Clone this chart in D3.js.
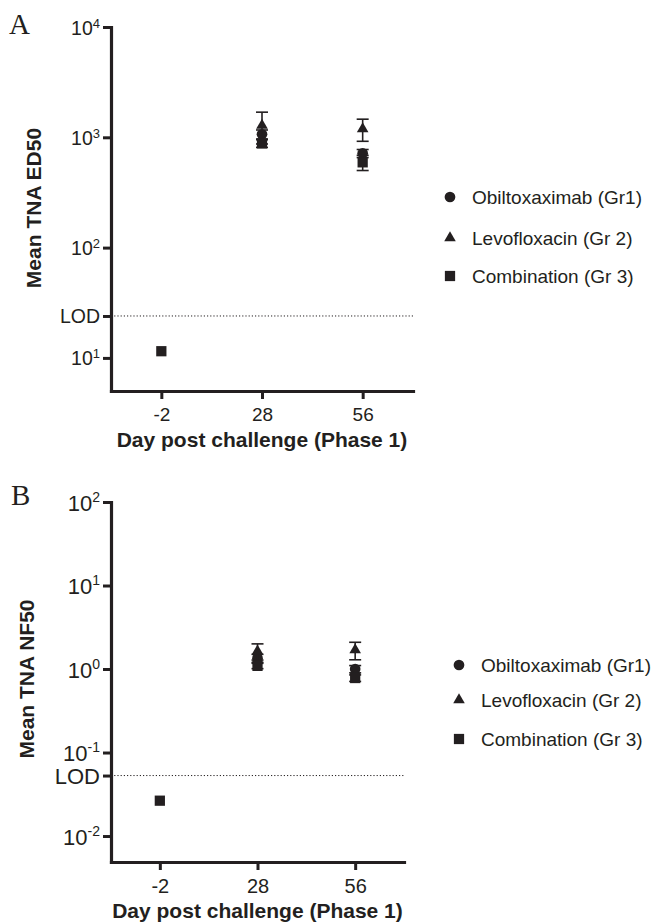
<!DOCTYPE html>
<html><head><meta charset="utf-8">
<script src="https://cdn.jsdelivr.net/npm/d3@7"></script>
<style>body{margin:0;background:#fff}svg{display:block}</style>
</head><body><svg id="c" width="651" height="924"></svg>
<script>
// ---------- data ----------
const days = ["-2", "28", "56"];
const groups = ["Obiltoxaximab (Gr1)", "Levofloxacin (Gr 2)", "Combination (Gr 3)"];
const shapes = ["circle", "triangle", "square"];

// Panel A: Mean TNA ED50 (null = not shown at that day)
const edObil = [null, 1065, 715];
const edLevo = [null, 1280, 1190];
const edComb = [11.5, 880, 593];
const edObilSem = [0, 100, 60];
const edLevoSem = [0, 410, 270];
const edCombSem = [0, 70, 93];
const edLOD = 24;
const edTicks = [10, 24, 100, 1000, 10000];
const edTickLabels = [["10", "1"], ["LOD", ""], ["10", "2"], ["10", "3"], ["10", "4"]];

// Panel B: Mean TNA NF50
const nfObil = [null, 1.35, 1.0];
const nfLevo = [null, 1.64, 1.69];
const nfComb = [0.0265, 1.09, 0.78];
const nfObilSem = [0, 0.15, 0.1];
const nfLevoSem = [0, 0.36, 0.4];
const nfCombSem = [0, 0.08, 0.07];
const nfLOD = 0.053;
const nfTicks = [0.01, 0.053, 0.1, 1, 10, 100];
const nfTickLabels = [["10", "-2"], ["LOD", ""], ["10", "-1"], ["10", "0"], ["10", "1"], ["10", "2"]];

// ---------- drawing ----------
const svg = d3.select("#c");
const INK = "#231f20";
const FONT = "'Liberation Sans', Arial, Helvetica, sans-serif";

function symbolPath(shape, size) {
  const t = shape === "circle" ? d3.symbolCircle : shape === "triangle" ? d3.symbolTriangle : d3.symbolSquare;
  return d3.symbol().type(t).size(size)();
}
const symSize = {circle: 90, triangle: 58, square: 105};

function panel(cfg) {
  const g = svg.append("g");
  const x = d3.scalePoint().domain(days).range([cfg.x0, cfg.x1]).padding(0.5);
  const y = d3.scaleLog().domain(cfg.ydom).range([cfg.yb, cfg.yt]);

  // LOD line
  g.append("line").attr("x1", cfg.x0).attr("x2", cfg.x1)
    .attr("y1", y(cfg.lod)).attr("y2", y(cfg.lod))
    .attr("stroke", INK).attr("stroke-width", 1).attr("stroke-dasharray", "1.2,2");

  // y axis
  const ya = g.append("g").attr("transform", `translate(${cfg.x0},0)`)
    .call(d3.axisLeft(y).tickValues(cfg.ticks).tickSize(8).tickSizeOuter(0).tickPadding(3));
  ya.select(".domain").attr("stroke", INK).attr("stroke-width", 3.2).attr("stroke-linecap", "square");
  ya.selectAll(".tick line").attr("stroke", INK).attr("stroke-width", 3);
  ya.selectAll(".tick text").each(function(d, i) {
    const lab = cfg.tickLabels[i];
    const t = d3.select(this).text(null)
      .attr("font-family", FONT).attr("font-size", cfg.ytickFs).attr("fill", INK)
      .attr("dy", null).attr("y", cfg.ytickDy).attr("x", -11);
    t.append("tspan").text(lab[0]);
    if (lab[1]) t.append("tspan").text(lab[1]).attr("font-size", cfg.supFs).attr("dy", cfg.supDy);
  });

  // x axis
  const xa = g.append("g").attr("transform", `translate(0,${cfg.yb})`)
    .call(d3.axisBottom(x).tickSize(8).tickSizeOuter(0).tickPadding(6));
  xa.select(".domain").attr("stroke", INK).attr("stroke-width", 3.2).attr("stroke-linecap", "square");
  xa.selectAll(".tick line").attr("stroke", INK).attr("stroke-width", 3);
  xa.selectAll(".tick text").attr("font-family", FONT).attr("font-size", cfg.xtickFs).attr("fill", INK)
    .attr("dy", null).attr("y", cfg.xtickY);

  // titles
  g.append("text").attr("x", (cfg.x0 + cfg.x1) / 2).attr("y", cfg.xtitleY)
    .attr("text-anchor", "middle").attr("font-family", FONT).attr("font-weight", "bold")
    .attr("font-size", cfg.titleFs).attr("fill", INK).text("Day post challenge (Phase 1)");
  g.append("text").attr("transform", `translate(${cfg.ytitleX},${cfg.ytitleY}) rotate(-90)`)
    .attr("text-anchor", "middle").attr("font-family", FONT).attr("font-weight", "bold")
    .attr("font-size", cfg.titleFs).attr("fill", INK).text(cfg.ytitle);
  g.append("text").attr("x", cfg.letterX).attr("y", cfg.letterY)
    .attr("font-family", "'Liberation Serif', 'Times New Roman', serif").attr("font-size", 29)
    .attr("fill", INK).text(cfg.letter);

  // series
  cfg.series.forEach((s, si) => {
    const sg = g.append("g");
    const pts = days.map((d, i) => ({d, v: s.vals[i], e: s.sem[i]})).filter(p => p.v != null);
    pts.forEach(p => {
      if (!p.e) return;
      const cx = x(p.d);
      const yl = y(Math.max(p.v - p.e, cfg.ydom[0])), yh = y(p.v + p.e);
      sg.append("line").attr("x1", cx).attr("x2", cx).attr("y1", yl).attr("y2", yh)
        .attr("stroke", INK).attr("stroke-width", 1.6);
      [yl, yh].forEach(yy => sg.append("line").attr("x1", cx - 6).attr("x2", cx + 6)
        .attr("y1", yy).attr("y2", yy).attr("stroke", INK).attr("stroke-width", 1.6));
    });
    sg.selectAll("path.m").data(pts).join("path").attr("class", "m")
      .attr("d", symbolPath(shapes[si], symSize[shapes[si]]))
      .attr("transform", p => `translate(${x(p.d)},${y(p.v)})`)
      .attr("fill", INK);
  });

  // legend
  const lg = g.append("g");
  groups.forEach((name, i) => {
    const yy = cfg.legendY[i];
    lg.append("path").attr("d", symbolPath(shapes[i], symSize[shapes[i]]))
      .attr("transform", `translate(${cfg.legendX},${yy})`).attr("fill", INK);
    lg.append("text").attr("x", cfg.legendX + 22).attr("y", yy + 7)
      .attr("font-family", FONT).attr("font-size", 19).attr("fill", INK).text(name);
  });
}

panel({
  letter: "A", letterX: 9, letterY: 34,
  x0: 111, x1: 413, yt: 27, yb: 391, ydom: [Math.pow(10, 0.7), 10000],
  ticks: edTicks, tickLabels: edTickLabels, lod: edLOD,
  ytickFs: 19.5, supFs: 13, supDy: -7, ytickDy: 7,
  xtickFs: 19, xtickY: 30,
  titleFs: 21, xtitleY: 447, ytitleX: 41, ytitleY: 208,
  ytitle: "Mean TNA ED50",
  series: [
    {vals: edObil, sem: edObilSem},
    {vals: edLevo, sem: edLevoSem},
    {vals: edComb, sem: edCombSem}
  ],
  legendX: 450, legendY: [197, 238, 276]
});

panel({
  letter: "B", letterX: 11, letterY: 505,
  x0: 111, x1: 404, yt: 502, yb: 862, ydom: [Math.pow(10, -2.311), 100],
  ticks: nfTicks, tickLabels: nfTickLabels, lod: nfLOD,
  ytickFs: 22, supFs: 14, supDy: -9, ytickDy: 8,
  xtickFs: 20, xtickY: 31,
  titleFs: 21, xtitleY: 918, ytitleX: 34, ytitleY: 679,
  ytitle: "Mean TNA NF50",
  series: [
    {vals: nfObil, sem: nfObilSem},
    {vals: nfLevo, sem: nfLevoSem},
    {vals: nfComb, sem: nfCombSem}
  ],
  legendX: 459, legendY: [665, 700, 739]
});
</script></body></html>
